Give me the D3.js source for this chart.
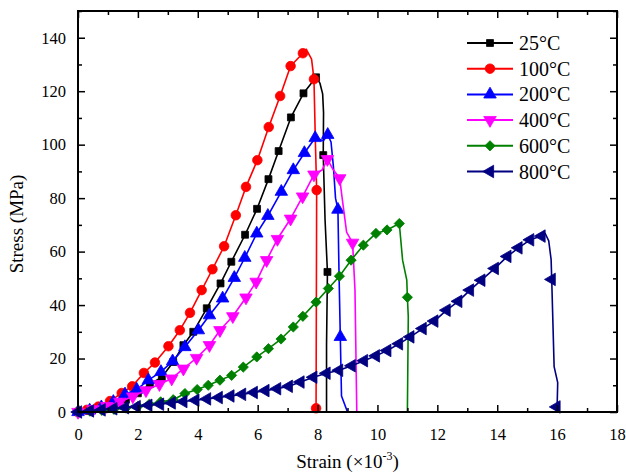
<!DOCTYPE html>
<html>
<head>
<meta charset="utf-8">
<script src="https://cdn.jsdelivr.net/npm/d3@7"></script>
<style>
  html, body { margin: 0; padding: 0; background: #fff; }
  svg { display: block; }
  text { font-family: "Liberation Serif", "Times New Roman", "DejaVu Serif", serif; fill: #000; }
</style>
</head>
<body>
<svg id="chart" width="626" height="476"></svg>
<script>
// Axis ticks
const xTicks = [0, 2, 4, 6, 8, 10, 12, 14, 16, 18];
const yTicks = [0, 20, 40, 60, 80, 100, 120, 140];
const seriesNames = ["25°C", "100°C", "200°C", "400°C", "600°C", "800°C"];

// Stress-strain curves: [strain (×10⁻³), stress (MPa)]
const line25 = [[0,0],[0.4,0.5],[0.8,1.4],[1.2,2.8],[1.6,4.6],[2.0,7.0],[2.4,10.4],[2.8,13.0],[3.18,18.7],[3.52,25.0],[3.85,30.0],[4.3,38.8],[4.76,48.1],[5.12,56.2],[5.58,66.3],[5.98,76.0],[6.36,87.1],[6.7,97.6],[7.11,110.2],[7.53,119.2],[7.95,125.2],[8.08,123],[8.17,119],[8.2,112],[8.19,96.1],[8.25,72],[8.33,52.4],[8.3,25],[8.3,0]];
const marks25 = [[0,0],[0.4,0.5],[0.8,1.4],[1.2,2.8],[1.6,4.6],[2.0,7.0],[2.4,10.4],[2.8,13.0],[3.18,18.7],[3.52,25.0],[3.85,30.0],[4.3,38.8],[4.76,48.1],[5.12,56.2],[5.58,66.3],[5.98,76.0],[6.36,87.1],[6.7,97.6],[7.11,110.2],[7.53,119.2],[7.95,125.2],[8.19,96.1],[8.33,52.4]];

const line100 = [[0,0],[0.3,0.8],[0.68,2.0],[1.07,4.1],[1.46,7.1],[1.81,9.6],[2.2,14.6],[2.57,18.5],[3.02,24.6],[3.4,30.6],[3.74,37.1],[4.13,45.6],[4.49,53.4],[4.88,62.0],[5.27,73.6],[5.61,84.2],[5.99,94.2],[6.37,106.6],[6.75,118.2],[7.1,129.4],[7.51,134.2],[7.62,135.7],[7.8,132],[7.88,124.5],[7.93,100],[7.97,83],[7.96,40],[7.95,1.4]];
const marks100 = [[0,0],[0.3,0.8],[0.68,2.0],[1.07,4.1],[1.46,7.1],[1.81,9.6],[2.2,14.6],[2.57,18.5],[3.02,24.6],[3.4,30.6],[3.74,37.1],[4.13,45.6],[4.49,53.4],[4.88,62.0],[5.27,73.6],[5.61,84.2],[5.99,94.2],[6.37,106.6],[6.75,118.2],[7.1,129.4],[7.51,134.2],[7.88,124.5],[7.97,83],[7.95,1.4]];

const line200 = [[0,0],[0.39,0.6],[0.78,1.8],[1.18,3.8],[1.57,6.6],[1.96,8.4],[2.35,11.9],[2.77,15.0],[3.16,19.0],[3.57,24.3],[4.02,30.6],[4.39,36.2],[4.83,42.5],[5.22,50.2],[5.57,57.7],[5.97,66.8],[6.34,73.4],[6.79,82.4],[7.19,90.5],[7.56,96.9],[7.92,102.5],[8.2,101.5],[8.34,103.7],[8.45,101],[8.53,91.7],[8.6,80],[8.68,75.7],[8.72,50],[8.76,28.1],[8.8,6],[9.0,0]];
const marks200 = [[0,0],[0.39,0.6],[0.78,1.8],[1.18,3.8],[1.57,6.6],[1.96,8.4],[2.35,11.9],[2.77,15.0],[3.16,19.0],[3.57,24.3],[4.02,30.6],[4.39,36.2],[4.83,42.5],[5.22,50.2],[5.57,57.7],[5.97,66.8],[6.34,73.4],[6.79,82.4],[7.19,90.5],[7.56,96.9],[7.92,102.5],[8.34,103.7],[8.68,75.7],[8.76,28.1]];

const line400 = [[0,0],[0.5,1.0],[0.96,2.2],[1.4,3.8],[1.83,5.8],[2.27,8.1],[2.72,10.4],[3.13,12.5],[3.52,16.2],[3.96,20.2],[4.39,25.0],[4.74,30.6],[5.17,35.8],[5.61,42.8],[5.95,48.7],[6.3,56.8],[6.66,64.7],[7.1,72.3],[7.5,80.6],[7.88,88.8],[8.15,90.5],[8.33,94.6],[8.5,91],[8.74,87.4],[8.81,81],[8.97,67.3],[9.17,63.3],[9.25,45.6],[9.31,0]];
const marks400 = [[0,0],[0.5,1.0],[0.96,2.2],[1.4,3.8],[1.83,5.8],[2.27,8.1],[2.72,10.4],[3.13,12.5],[3.52,16.2],[3.96,20.2],[4.39,25.0],[4.74,30.6],[5.17,35.8],[5.61,42.8],[5.95,48.7],[6.3,56.8],[6.66,64.7],[7.1,72.3],[7.5,80.6],[7.88,88.8],[8.33,94.6],[8.74,87.4],[9.17,63.3]];

const line600 = [[0,0],[0.4,0.3],[0.8,0.6],[1.2,1.0],[1.6,1.5],[2.0,2.1],[2.38,2.9],[2.76,3.8],[3.18,4.6],[3.57,6.9],[3.98,8.4],[4.35,10.0],[4.74,11.9],[5.13,13.7],[5.52,16.8],[5.97,20.6],[6.36,23.7],[6.78,27.3],[7.19,31.8],[7.51,35.8],[7.95,41.1],[8.36,46.2],[8.73,50.8],[9.12,56.8],[9.53,62.4],[9.95,66.8],[10.32,68.1],[10.73,70.5],[10.84,56.8],[10.98,49.3],[11.0,42.9],[11.03,35.6],[11.0,0]];
const marks600 = [[0,0],[0.4,0.3],[0.8,0.6],[1.2,1.0],[1.6,1.5],[2.0,2.1],[2.38,2.9],[2.76,3.8],[3.18,4.6],[3.57,6.9],[3.98,8.4],[4.35,10.0],[4.74,11.9],[5.13,13.7],[5.52,16.8],[5.97,20.6],[6.36,23.7],[6.78,27.3],[7.19,31.8],[7.51,35.8],[7.95,41.1],[8.36,46.2],[8.73,50.8],[9.12,56.8],[9.53,62.4],[9.95,66.8],[10.32,68.1],[10.73,70.5],[11.0,42.9]];

const line800 = [[0,0],[0.4,0.4],[0.79,0.8],[1.18,1.2],[1.57,1.6],[1.96,2.0],[2.35,2.5],[2.74,2.9],[3.13,3.4],[3.52,3.9],[3.92,4.4],[4.31,4.9],[4.7,5.4],[5.09,6.0],[5.48,6.6],[5.87,7.3],[6.26,8.0],[6.65,8.7],[7.04,9.6],[7.43,11.2],[7.86,13.0],[8.3,14.5],[8.72,15.6],[9.14,17.3],[9.55,19.2],[9.95,21.0],[10.33,23.0],[10.72,25.5],[11.1,28.1],[11.51,31.2],[11.9,34.0],[12.31,38.1],[12.7,41.4],[13.09,45.6],[13.47,49.3],[13.92,53.7],[14.34,58.2],[14.71,61.4],[15.1,64.4],[15.48,65.8],[15.6,66.8],[15.72,64],[15.8,57],[15.82,49.6],[15.9,17],[16.02,11],[16.0,1.9],[16.02,0]];
const marks800 = [[0,0],[0.4,0.4],[0.79,0.8],[1.18,1.2],[1.57,1.6],[1.96,2.0],[2.35,2.5],[2.74,2.9],[3.13,3.4],[3.52,3.9],[3.92,4.4],[4.31,4.9],[4.7,5.4],[5.09,6.0],[5.48,6.6],[5.87,7.3],[6.26,8.0],[6.65,8.7],[7.04,9.6],[7.43,11.2],[7.86,13.0],[8.3,14.5],[8.72,15.6],[9.14,17.3],[9.55,19.2],[9.95,21.0],[10.33,23.0],[10.72,25.5],[11.1,28.1],[11.51,31.2],[11.9,34.0],[12.31,38.1],[12.7,41.4],[13.09,45.6],[13.47,49.3],[13.92,53.7],[14.34,58.2],[14.71,61.4],[15.1,64.4],[15.48,65.8],[15.82,49.6],[15.98,1.9]];

const lines = [line25, line100, line200, line400, line600, line800];
const marks = [marks25, marks100, marks200, marks400, marks600, marks800];

// Appearance of each series
const colors = ["#000000", "#ff0000", "#0000ff", "#ff00ff", "#008000", "#000080"];
const shapes = [
  { type: d3.symbolSquare, size: 48, rotate: 0 },
  { type: d3.symbolCircle, size: 72, rotate: 0 },
  { type: d3.symbolTriangle, size: 68, rotate: 0 },
  { type: d3.symbolTriangle, size: 68, rotate: 180 },
  { type: d3.symbolSquare, size: 52, rotate: 45 },
  { type: d3.symbolTriangle, size: 68, rotate: -90 }
];

const svg = d3.select("#chart");
const margin = { left: 78, right: 9, top: 11, bottom: 64 };
const W = 626, H = 476;

const x = d3.scaleLinear().domain([0, 18]).range([margin.left, W - margin.right]);
const y = d3.scaleLinear().domain([0, 150]).range([H - margin.bottom, margin.top]);

const plot = svg.append("g");

// Curves
const lineGen = d3.line().x(d => x(d[0])).y(d => y(d[1]));
lines.forEach((pts, i) => {
  const g = plot.append("g");
  g.append("path")
    .attr("d", lineGen(pts))
    .attr("fill", "none")
    .attr("stroke", colors[i])
    .attr("stroke-width", 1.6)
    .attr("stroke-linejoin", "round");
  const sym = d3.symbol().type(shapes[i].type).size(shapes[i].size);
  g.selectAll("path.m").data(marks[i]).join("path")
    .attr("class", "m")
    .attr("d", sym)
    .attr("transform", d => `translate(${x(d[0])},${y(d[1])}) rotate(${shapes[i].rotate})`)
    .attr("fill", colors[i])
    .attr("stroke", colors[i])
    .attr("stroke-width", 0.8);
});

// Axes with inward ticks, minor ticks halfway between majors
const xMinor = d3.range(1, 18, 2);
const yMinor = d3.range(10, 151, 20);
const tickFont = 16.5;

function styleAxis(g) {
  g.attr("font-family", null);
  g.select(".domain").remove();
  g.selectAll(".tick line").attr("stroke", "#000").attr("stroke-width", 1.5);
  g.selectAll("text").style("font-size", tickFont + "px");
}

const xAxis = svg.append("g").attr("transform", `translate(0,${y(0)})`)
  .call(d3.axisBottom(x).tickValues(xTicks).tickFormat(d3.format("d")).tickSize(-7).tickPadding(16));
styleAxis(xAxis);
svg.append("g").attr("transform", `translate(0,${y(0)})`)
  .call(d3.axisBottom(x).tickValues(xMinor).tickFormat("").tickSize(-4)).call(styleAxis);
svg.append("g").attr("transform", `translate(0,${y(150)})`)
  .call(d3.axisTop(x).tickValues(xTicks).tickFormat("").tickSize(-7)).call(styleAxis);
svg.append("g").attr("transform", `translate(0,${y(150)})`)
  .call(d3.axisTop(x).tickValues(xMinor).tickFormat("").tickSize(-4)).call(styleAxis);

const yAxis = svg.append("g").attr("transform", `translate(${x(0)},0)`)
  .call(d3.axisLeft(y).tickValues(yTicks).tickFormat(d3.format("d")).tickSize(-7).tickPadding(12));
styleAxis(yAxis);
svg.append("g").attr("transform", `translate(${x(0)},0)`)
  .call(d3.axisLeft(y).tickValues(yMinor).tickFormat("").tickSize(-4)).call(styleAxis);
svg.append("g").attr("transform", `translate(${x(18)},0)`)
  .call(d3.axisRight(y).tickValues(yTicks).tickFormat("").tickSize(-7)).call(styleAxis);
svg.append("g").attr("transform", `translate(${x(18)},0)`)
  .call(d3.axisRight(y).tickValues(yMinor).tickFormat("").tickSize(-4)).call(styleAxis);

// Frame
svg.append("rect")
  .attr("x", x(0)).attr("y", y(150))
  .attr("width", x(18) - x(0)).attr("height", y(0) - y(150))
  .attr("fill", "none").attr("stroke", "#000").attr("stroke-width", 2);

// Axis titles
const xt = svg.append("text")
  .attr("x", (x(0) + x(18)) / 2).attr("y", 468)
  .attr("text-anchor", "middle")
  .style("font-size", "19px");
xt.append("tspan").text("Strain (×10");
xt.append("tspan").text("-3").attr("dy", -8).style("font-size", "12px");
xt.append("tspan").text(")").attr("dy", 8);

svg.append("text")
  .attr("transform", `translate(23,224) rotate(-90)`)
  .attr("text-anchor", "middle")
  .style("font-size", "19px")
  .text("Stress (MPa)");

// Legend
const legend = svg.append("g").attr("transform", "translate(467,43)");
seriesNames.forEach((name, i) => {
  const row = legend.append("g").attr("transform", `translate(0,${i * 25.7})`);
  row.append("line").attr("x1", 0).attr("x2", 46).attr("y1", 0).attr("y2", 0)
    .attr("stroke", colors[i]).attr("stroke-width", 2);
  row.append("path")
    .attr("d", d3.symbol().type(shapes[i].type).size(shapes[i].size)())
    .attr("transform", `translate(23,0) rotate(${shapes[i].rotate})`)
    .attr("fill", colors[i]).attr("stroke", colors[i]).attr("stroke-width", 0.8);
  row.append("text").attr("x", 52).attr("y", 0).attr("dy", "0.35em")
    .style("font-size", "20px").text(name);
});
</script>
</body>
</html>
